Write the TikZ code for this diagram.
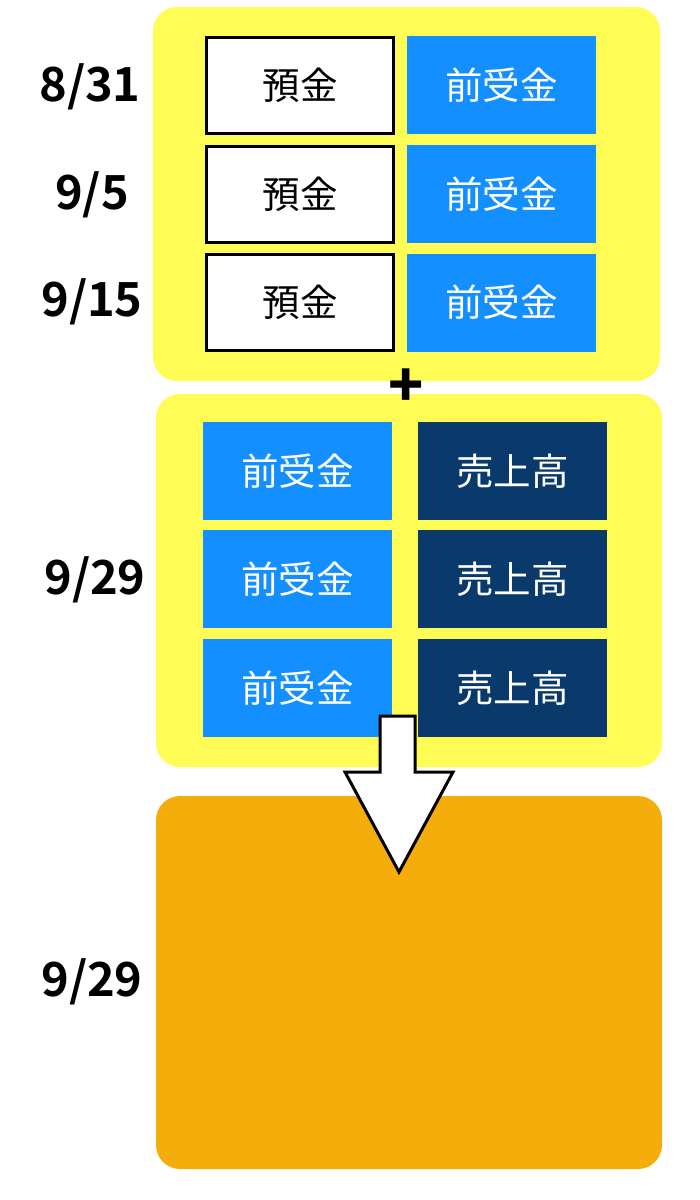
\documentclass[tikz,border=0pt]{standalone}
\usepackage{fontspec}
\setmainfont{Noto Sans CJK JP}
\newfontfamily\datefont{Noto Sans CJK JP}[BoldFont={* Bold}]
\usetikzlibrary{positioning}

\definecolor{padyellow}{RGB}{255,253,85}
\definecolor{cellblue}{RGB}{20,143,255}
\definecolor{cellnavy}{RGB}{9,58,107}
\definecolor{padorange}{RGB}{245,173,11}

\tikzset{
  pad/.style={draw=none, rounded corners=24pt},
  cell/.style={minimum width=189pt, minimum height=98pt, inner sep=0pt,
    font=\fontsize{37.5}{40}\selectfont},
  whitecell/.style={cell, draw=black, line width=3pt, fill=white,
    minimum width=187pt, minimum height=96pt},
  bluecell/.style={cell, fill=cellblue, text=white},
  navycell/.style={cell, fill=cellnavy, text=white},
  datelabel/.style={font=\datefont\bfseries\fontsize{47}{50}\selectfont}
}

\begin{document}
\begin{tikzpicture}[x=1pt, y=-1pt]
  \useasboundingbox (0,0) rectangle (700,1200);

  % yellow and orange pads
  \fill[pad, padyellow] (153,7) rectangle (660,381);
  \fill[pad, padyellow] (156,394) rectangle (662,767);
  \fill[pad, padorange] (156,796) rectangle (662,1169);

  % dates
  \node[datelabel] (d1) at (90,87) {8/31};
  \node[datelabel] (d2) at (92,195) {9/5};
  \node[datelabel] (d3) at (92,302) {9/15};
  \node[datelabel] (d4) at (95,580) {9/29};
  \node[datelabel] (d5) at (92,982) {9/29};

  % 8/31 -- 9/15 entries
  \node[whitecell] (dep1) at (300,85) {預金};
  \node[whitecell] (dep2) at (300,194) {預金};
  \node[whitecell] (dep3) at (300,302.5) {預金};
  \node[bluecell] (adv1) at (501.5,85) {前受金};
  \node[bluecell] (adv2) at (501.5,194) {前受金};
  \node[bluecell] (adv3) at (501.5,302.5) {前受金};

  \node[font=\bfseries\fontsize{58}{58}\selectfont] (plus) at (406,388) {+};

  % 9/29 entries
  \node[bluecell] (adv4) at (297.5,471) {前受金};
  \node[bluecell] (adv5) at (297.5,579) {前受金};
  \node[bluecell] (adv6) at (297.5,688) {前受金};
  \node[navycell] (sal1) at (512.5,471) {売上高};
  \node[navycell] (sal2) at (512.5,579) {売上高};
  \node[navycell] (sal3) at (512.5,688) {売上高};

  % big arrow
  \draw[line width=3pt, fill=white, line join=miter]
    (380,716) -- (415,716) -- (415,772) -- (453,772) -- (399,872)
    -- (345,772) -- (380,772) -- cycle;
\end{tikzpicture}
\end{document}
